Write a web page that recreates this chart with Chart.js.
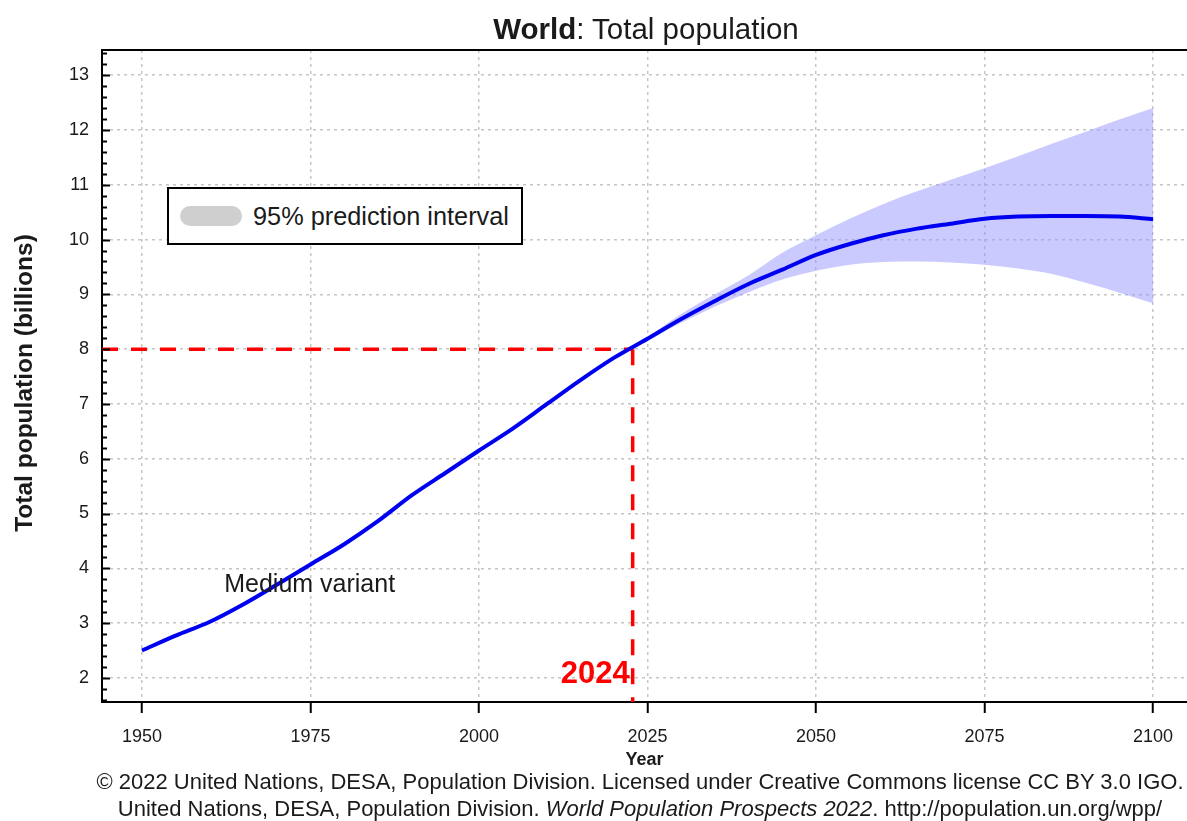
<!DOCTYPE html>
<html>
<head>
<meta charset="utf-8">
<title>World: Total population</title>
<script src="https://cdn.jsdelivr.net/npm/chart.js@4/dist/chart.umd.min.js"></script>
<style>
  html, body { margin: 0; padding: 0; background: #fff; }
  #wrap { position: relative; width: 1187px; height: 821px; overflow: hidden;
          font-family: "Liberation Sans", Arial, sans-serif; color: #1a1a1a; }
  #wrap canvas { position: absolute; left: 0; top: 0; }
  .txt { position: absolute; white-space: nowrap; line-height: 1; }
  #title { left: 646px; top: 14px; font-size: 29.5px; transform: translateX(-50%); }
  #legend { position: absolute; left: 167px; top: 187px; width: 352px; height: 54px;
            border: 2px solid #000; background: #fff; }
  #swatch { position: absolute; left: 180px; top: 206px; width: 62px; height: 20px;
            border-radius: 10px; background: #cfcfcf; }
  #legtext { left: 253px; top: 204px; font-size: 25.3px; }
  .credit { left: 640px; font-size: 22px; transform: translateX(-50%); }
  #cred1 { top: 771px; }
  #cred2 { top: 798px; }
</style>
</head>
<body>
<div id="wrap">
  <canvas id="popChart" width="1187" height="821"></canvas>
  <div id="title" class="txt"><b>World</b>: Total population</div>
  <div id="legend"></div>
  <div id="swatch"></div>
  <div id="legtext" class="txt">95% prediction interval</div>
  <div id="cred1" class="txt credit">© 2022 United Nations, DESA, Population Division. Licensed under Creative Commons license CC BY 3.0 IGO.</div>
  <div id="cred2" class="txt credit">United Nations, DESA, Population Division. <i>World Population Prospects 2022</i>. http://population.un.org/wpp/</div>
</div>
<script>
// --- DATOS ---
const years = [1950, 1955, 1960, 1965, 1970, 1975, 1980, 1985, 1990, 1995, 2000, 2005, 2010, 2015, 2020,
               2025, 2030, 2035, 2040, 2045, 2050, 2055, 2060, 2065, 2070, 2075, 2080, 2085, 2090, 2095, 2100];
const medium = [2.50, 2.77, 3.02, 3.34, 3.70, 4.07, 4.44, 4.86, 5.33, 5.74, 6.15, 6.55, 6.99, 7.43, 7.84,
                8.19, 8.55, 8.88, 9.19, 9.45, 9.72, 9.92, 10.08, 10.20, 10.29, 10.38, 10.42, 10.43, 10.43, 10.42, 10.37];

const piYears = [2022, 2025, 2030, 2035, 2040, 2045, 2050, 2055, 2060, 2065, 2070, 2075, 2080, 2085, 2090, 2095, 2100];
const piUpper = [7.98, 8.22, 8.64, 9.00, 9.35, 9.76, 10.08, 10.38, 10.65, 10.88, 11.09, 11.30, 11.52, 11.75, 11.97, 12.19, 12.40];
const piLower = [7.98, 8.16, 8.48, 8.78, 9.04, 9.27, 9.43, 9.54, 9.59, 9.60, 9.58, 9.54, 9.47, 9.37, 9.21, 9.03, 8.84];

const refYear = 2022.8;
const refPop = 8;

const xTicks = [1950, 1975, 2000, 2025, 2050, 2075, 2100];
const yTicks = [2, 3, 4, 5, 6, 7, 8, 9, 10, 11, 12, 13];

const xMin = 1944.07, xMax = 2105.04;
const yMin = 1.56, yMax = 13.46;

const FONT = '"Liberation Sans", Arial, sans-serif';

const pts = (xs, ys) => xs.map((x, i) => ({ x: x, y: ys[i] }));

// --- MARCO, TICKS MENORES Y ANOTACIONES ---
const frame = {
    id: 'frame',
    afterDraw(chart) {
        const { ctx, chartArea: a, scales: { x, y } } = chart;
        ctx.save();
        ctx.strokeStyle = '#000';
        ctx.lineWidth = 2;
        ctx.beginPath();
        ctx.moveTo(a.left - 1, a.top);
        ctx.lineTo(a.right, a.top);
        ctx.stroke();

        // ticks del eje y hacia adentro (cada 0.2)
        for (let k = Math.ceil(y.min * 5); k <= Math.floor(y.max * 5); k++) {
            const py = Math.round(y.getPixelForValue(k / 5)) + 0.5;
            const len = k % 5 === 0 ? 8 : 5;
            ctx.beginPath();
            ctx.moveTo(a.left, py);
            ctx.lineTo(a.left + len, py);
            ctx.stroke();
        }

        // título del eje y (centrado como en el original)
        ctx.fillStyle = '#1a1a1a';
        ctx.font = 'bold 24.5px ' + FONT;
        ctx.textAlign = 'center';
        ctx.textBaseline = 'middle';
        ctx.translate(25, 383);
        ctx.rotate(-Math.PI / 2);
        ctx.fillText('Total population (billions)', 0, 0);
        ctx.setTransform(1, 0, 0, 1, 0, 0);

        ctx.font = '25px ' + FONT;
        ctx.textAlign = 'left';
        ctx.textBaseline = 'alphabetic';
        ctx.fillText('Medium variant', x.getPixelForValue(1962.2), y.getPixelForValue(3.57));

        ctx.fillStyle = '#ff0000';
        ctx.font = 'bold 31px ' + FONT;
        ctx.textAlign = 'right';
        ctx.fillText('2024', x.getPixelForValue(refYear) - 3, y.getPixelForValue(1.9));
        ctx.restore();
    }
};

new Chart(document.getElementById('popChart'), {
    type: 'line',
    data: {
        datasets: [{
            label: 'Medium variant',
            data: pts(years, medium),
            borderColor: '#0000f0',
            borderWidth: 4,
            pointRadius: 0,
            cubicInterpolationMode: 'monotone',
            fill: false
        }, {
            label: 'ref-h',
            data: [{ x: xMin, y: refPop }, { x: refYear, y: refPop }],
            borderColor: '#ff0000',
            borderWidth: 3.5,
            borderDash: [16, 13],
            pointRadius: 0,
            fill: false
        }, {
            label: 'ref-v',
            data: [{ x: refYear, y: refPop }, { x: refYear, y: yMin }],
            borderColor: '#ff0000',
            borderWidth: 3.5,
            borderDash: [16, 13],
            pointRadius: 0,
            fill: false
        }, {
            label: '95% upper',
            data: pts(piYears, piUpper),
            borderWidth: 0,
            borderColor: 'rgba(0,0,0,0)',
            backgroundColor: 'rgba(150,150,255,0.5)',
            pointRadius: 0,
            cubicInterpolationMode: 'monotone',
            fill: '+1'
        }, {
            label: '95% lower',
            data: pts(piYears, piLower),
            borderWidth: 0,
            borderColor: 'rgba(0,0,0,0)',
            pointRadius: 0,
            cubicInterpolationMode: 'monotone',
            fill: false
        }]
    },
    options: {
        responsive: false,
        animation: false,
        devicePixelRatio: 1,
        layout: { padding: { top: 50, right: 0, bottom: 0, left: 0 } },
        plugins: {
            legend: { display: false },
            tooltip: { enabled: false },
            title: { display: false }
        },
        scales: {
            x: {
                type: 'linear',
                min: xMin,
                max: xMax,
                afterBuildTicks: s => { s.ticks = xTicks.map(v => ({ value: v })); },
                afterFit: s => { s.height = 119; },
                grid: {
                    color: '#c6c6c6',
                    lineWidth: 1.5,
                    drawTicks: true,
                    tickLength: 11,
                    tickWidth: 2,
                    tickColor: '#000'
                },
                border: { display: true, color: '#000', width: 2, dash: [3, 4] },
                ticks: {
                    autoSkip: false,
                    maxRotation: 0,
                    padding: 13,
                    color: '#1a1a1a',
                    font: { family: FONT, size: 18 },
                    callback: v => String(v)
                },
                title: {
                    display: true,
                    text: 'Year',
                    color: '#1a1a1a',
                    font: { family: FONT, size: 18, weight: 'bold' },
                    padding: { top: 0, bottom: 50 }
                }
            },
            y: {
                type: 'linear',
                min: yMin,
                max: yMax,
                afterBuildTicks: s => { s.ticks = yTicks.map(v => ({ value: v })); },
                afterFit: s => { s.width = 102; },
                grid: {
                    color: '#c6c6c6',
                    lineWidth: 1.5,
                    drawTicks: false
                },
                border: { display: true, color: '#000', width: 2, dash: [3, 4] },
                ticks: {
                    padding: 13,
                    color: '#1a1a1a',
                    font: { family: FONT, size: 18 },
                    callback: v => String(v)
                },
                title: { display: false }
            }
        }
    },
    plugins: [frame]
});
</script>
</body>
</html>
